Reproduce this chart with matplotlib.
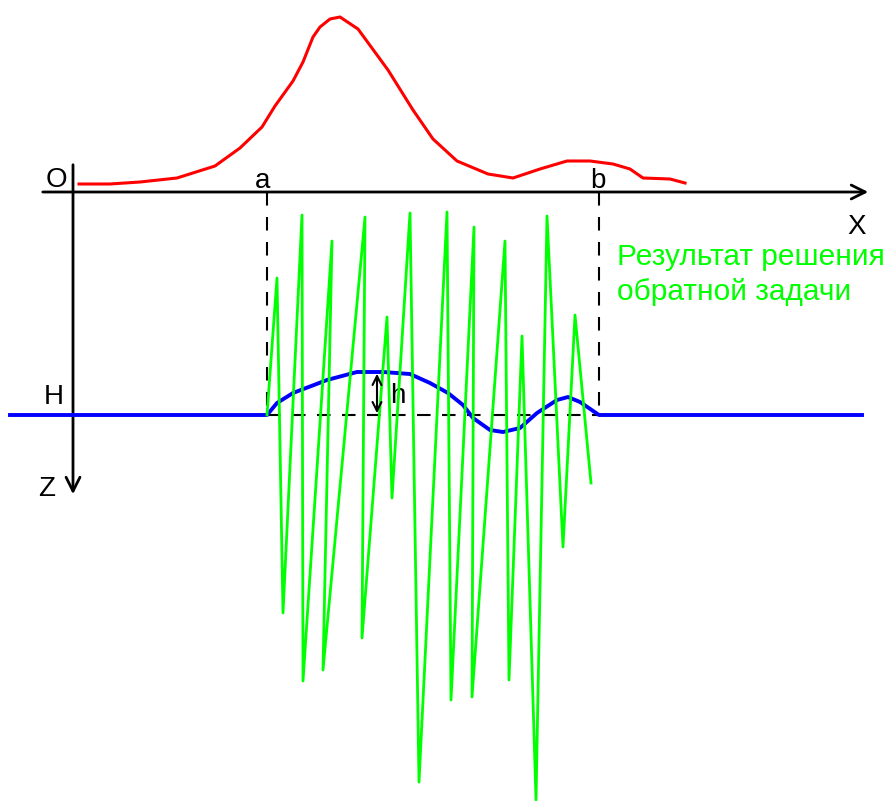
import numpy as np
import matplotlib
matplotlib.use('Agg')
from matplotlib import pyplot as plt

'''Схема: аномалия, рельеф границы и результат решения обратной задачи'''

# координаты в пикселях картинки (y вниз)
red_x = [79, 110, 140, 177, 215, 240, 262, 275, 293, 303, 313, 320, 330, 340, 358, 388, 413, 433,
         457, 488, 513, 540, 567, 590, 613, 630, 643, 670, 685]
red_y = [184, 184, 182, 178, 166, 148, 127, 106, 81, 62, 37, 27, 19, 17, 29, 70, 110, 139,
         161, 174, 178, 169, 161, 161, 164, 169, 178, 179, 183]

blue_x = [10, 267, 277, 293, 327, 357, 383, 410, 430, 448, 463, 473, 490, 503, 520, 537,
          557, 568, 580, 599, 862]
blue_y = [415, 415, 403, 393, 380, 372, 372, 374, 383, 393, 405, 418, 430, 432, 428, 413,
          400, 397, 402, 415, 415]

green_x = [267, 277, 283, 302, 303, 332, 323, 365, 362, 387, 392, 410, 419, 447, 451, 474,
           472, 505, 509, 522, 536, 547, 563, 575, 591]
green_y = [415, 278, 613, 215, 681, 241, 670, 217, 638, 317, 498, 213, 782, 212, 700, 227,
           697, 241, 680, 336, 800, 216, 547, 315, 483]

x_a, x_b = 267, 599
y_axis, x_axis0 = 192, 73
y_H = 415

plt.rcParams['font.family'] = ['Liberation Sans', 'DejaVu Sans']

fig = plt.figure(figsize=(8.96, 8.01), dpi=100)
ax = fig.add_axes([0, 0, 1, 1])
ax.set_xlim(0, 896)
ax.set_ylim(801, 0)
ax.axis('off')

# оси
ax.annotate('', xy=(871, y_axis), xytext=(40, y_axis),
            arrowprops=dict(arrowstyle='->', color='black', lw=2.0, mutation_scale=25))
ax.annotate('', xy=(x_axis0, 497), xytext=(x_axis0, 162),
            arrowprops=dict(arrowstyle='->', color='black', lw=2.0, mutation_scale=25))

# пунктир
dash = (0, (6.5, 5.5))
ax.plot([x_a, x_a], [y_axis, y_H], color='black', lw=1.5, ls=dash)
ax.plot([x_b, x_b], [y_axis, y_H], color='black', lw=1.5, ls=dash)
ax.plot([x_a, x_b], [y_H, y_H], color='black', lw=1.5, ls=dash)

ax.plot(blue_x, blue_y, color='#0000ff', lw=2.8, zorder=3)
ax.plot(red_x, red_y, color='#ff0000', lw=2.2, zorder=3)
ax.plot(green_x, green_y, color='#00ff00', lw=2.0, zorder=4)

# стрелка h
ax.annotate('', xy=(377, 371), xytext=(377, 416),
            arrowprops=dict(arrowstyle='<->', color='black', lw=1.5, mutation_scale=16), zorder=5)

fs = 20
ax.text(56, 180, 'O', fontsize=fs, ha='center', va='center')
ax.text(263, 181, 'a', fontsize=fs, ha='center', va='center')
ax.text(598, 181, 'b', fontsize=fs, ha='center', va='center')
ax.text(857, 227, 'X', fontsize=fs, ha='center', va='center')
ax.text(54, 397, 'H', fontsize=fs, ha='center', va='center')
ax.text(47, 489, 'Z', fontsize=fs, ha='center', va='center')
ax.text(398, 396, 'h', fontsize=fs, ha='center', va='center')
ax.text(617, 257, 'Результат решения', fontsize=21.5, color='#00ff00', ha='left', va='center')
ax.text(617, 292, 'обратной задачи', fontsize=21.5, color='#00ff00', ha='left', va='center')

plt.savefig('out.png', dpi=100)
